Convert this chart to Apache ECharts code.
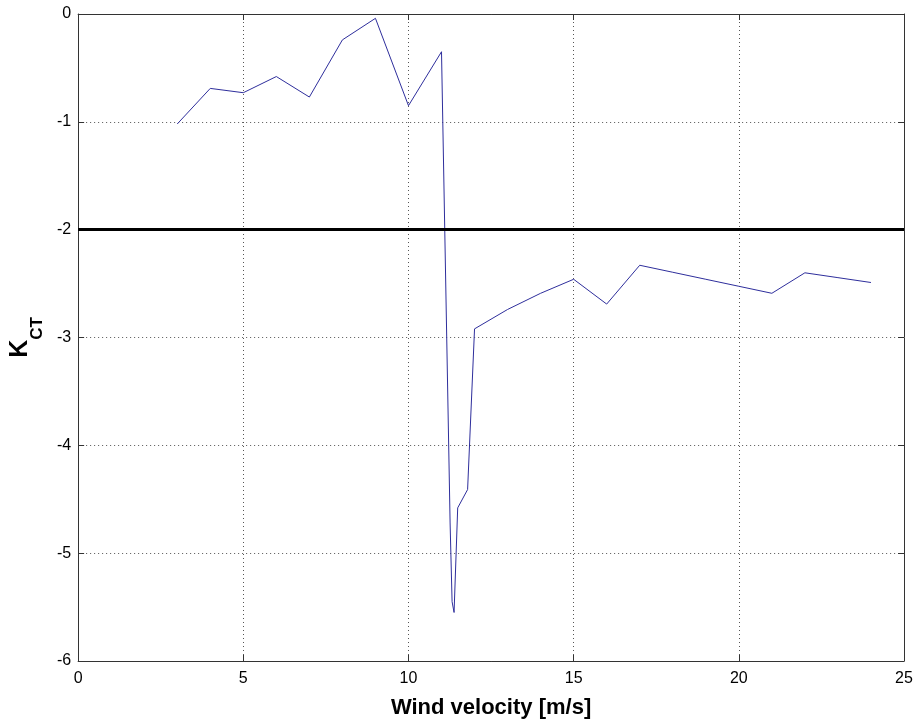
<!DOCTYPE html>
<html>
<head>
<meta charset="utf-8">
<script src="https://cdn.jsdelivr.net/npm/echarts@6/dist/echarts.min.js"></script>
<style>
  html, body { margin: 0; padding: 0; background: #fff; }
  #chart { width: 917px; height: 724px; }
</style>
</head>
<body>
<div id="chart"></div>
<script>
// wind velocity [m/s] and K_CT
var windSpeed = [3, 4, 5, 6, 7, 8, 9, 10, 11, 11.26, 11.32, 11.38, 11.49, 11.79, 12,
  13, 14, 15, 16, 17, 18, 19, 20, 21, 22, 23, 24]
var kct = [-1.02, -0.69, -0.73, -0.58, -0.77, -0.24, -0.04, -0.85, -0.35, -4.72, -5.45, -5.55, -4.58, -4.41, -2.92,
  -2.74, -2.59, -2.46, -2.69, -2.33, -2.395, -2.46, -2.525, -2.59, -2.40, -2.445, -2.49]
var threshold = -2

var xTicks = { min: 0, max: 25, interval: 5 }
var yTicks = { min: -6, max: 0, interval: 1 }

var chart = echarts.init(document.getElementById('chart'))

var font = 'Liberation Sans, Arial, sans-serif'
var axisColor = '#333'

function mirrorAxis(base, pos) {
  return Object.assign({}, base, {
    position: pos,
    axisLabel: { show: false },
    splitLine: { show: false },
    name: ''
  })
}

var xBase = {
  type: 'value',
  min: xTicks.min,
  max: xTicks.max,
  interval: xTicks.interval,
  axisLine: { show: true, onZero: false, lineStyle: { color: axisColor, width: 1 } },
  axisTick: { show: true, inside: true, length: 6, lineStyle: { color: axisColor } },
  axisLabel: { color: '#000', fontSize: 16, fontFamily: font, margin: 10 },
  splitLine: { show: true, lineStyle: { color: '#555', type: [1, 3], width: 1 } }
}
var yBase = {
  type: 'value',
  min: yTicks.min,
  max: yTicks.max,
  interval: yTicks.interval,
  axisLine: { show: true, onZero: false, lineStyle: { color: axisColor, width: 1 } },
  axisTick: { show: true, inside: true, length: 6, lineStyle: { color: axisColor } },
  axisLabel: { color: '#000', fontSize: 16, fontFamily: font, margin: 7 },
  splitLine: { show: true, lineStyle: { color: '#555', type: [1, 3], width: 1 } }
}

var data = windSpeed.map(function (v, i) { return [v, kct[i]] })

chart.setOption({
  backgroundColor: '#fff',
  animation: false,
  grid: { left: 78, right: 13, top: 14, bottom: 62, containLabel: false },
  xAxis: [
    Object.assign({}, xBase, {
      position: 'bottom',
      name: 'Wind velocity [m/s]',
      nameLocation: 'middle',
      nameGap: 36,
      nameTextStyle: { color: '#000', fontSize: 22, fontWeight: 'bold', fontFamily: font }
    }),
    mirrorAxis(xBase, 'top')
  ],
  yAxis: [
    Object.assign({}, yBase, {
      position: 'left',
      name: '{k|K}{s|CT}',
      nameLocation: 'middle',
      nameRotate: 90,
      nameGap: 36,
      nameTextStyle: {
        color: '#000',
        fontFamily: font,
        rich: {
          k: { fontSize: 25, fontWeight: 'bold', fontFamily: font, color: '#000', verticalAlign: 'top', lineHeight: 30 },
          s: { fontSize: 17, fontWeight: 'bold', fontFamily: font, color: '#000', verticalAlign: 'bottom', lineHeight: 30, padding: [0, 0, -8, 0] }
        }
      }
    }),
    mirrorAxis(yBase, 'right')
  ],
  series: [{
    type: 'line',
    data: data,
    showSymbol: false,
    symbol: 'none',
    lineStyle: { color: '#2e2e9c', width: 1 },
    markLine: {
      silent: true,
      symbol: ['none', 'none'],
      label: { show: false },
      lineStyle: { color: '#000', width: 3, type: 'solid' },
      data: [{ yAxis: threshold }]
    }
  }]
})
</script>
</body>
</html>
